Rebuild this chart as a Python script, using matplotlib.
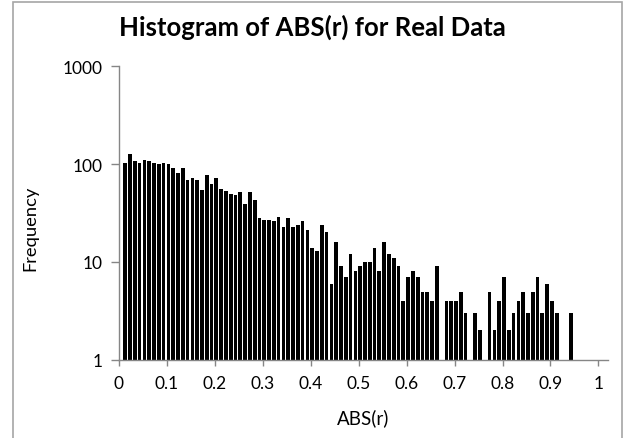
import numpy as np
import matplotlib
matplotlib.use("Agg")
import matplotlib.pyplot as plt
from matplotlib.patches import Rectangle

plt.rcParams['font.family'] = ['Lato', 'DejaVu Sans']

# histogram bins of ABS(r), width 0.01 (lower edge of each bin)
bin_lefts = np.round(np.arange(1, 95) * 0.01, 2)
counts = [
    103, 126, 107, 103, 111, 107, 103, 99, 103, 101,
    91, 80, 91, 68, 72, 69, 54, 77, 63, 72,
    55, 53, 49, 48, 52, 39, 52, 43, 28, 27,
    27, 26, 29, 23, 28, 23, 24, 26, 21, 14,
    13, 24, 20, 6, 16, 9, 7, 12, 8, 9,
    10, 10, 14, 8, 16, 12, 11, 9, 4, 7,
    8, 7, 5, 5, 4, 9, 0, 4, 4, 4,
    5, 3, 0, 3, 2, 0, 5, 2, 4, 7,
    2, 3, 4, 5, 3, 5, 7, 3, 6, 4,
    3, 0, 0, 3,
]
x_ticks = [0, 0.1, 0.2, 0.3, 0.4, 0.5, 0.6, 0.7, 0.8, 0.9, 1]
x_tick_labels = ['0', '0.1', '0.2', '0.3', '0.4', '0.5', '0.6', '0.7', '0.8', '0.9', '1']
y_ticks = [1, 10, 100, 1000]

W, H = 631, 439
fig = plt.figure(figsize=(W / 100, H / 100), dpi=100)

# axes box in pixel coordinates
left, right, top, bottom = 119, 608, 67, 361
ax = fig.add_axes([left / W, 1 - bottom / H, (right - left) / W, (bottom - top) / H])

counts = np.array(counts)
keep = counts > 0
ax.bar(bin_lefts[keep] + 0.003, counts[keep], width=0.0077, color='black',
       edgecolor='none', linewidth=0)

ax.set_yscale('log')
ax.set_ylim(1, 1000)
ax.set_xlim(0, 1.02)
ax.set_yticks(y_ticks)
ax.set_yticklabels(['1', '10', '100', '1000'])
ax.yaxis.set_minor_locator(matplotlib.ticker.NullLocator())
ax.set_xticks(x_ticks)
ax.set_xticklabels(x_tick_labels)

axis_gray = '#868686'
for side in ['top', 'right']:
    ax.spines[side].set_visible(False)
for side in ['left', 'bottom']:
    ax.spines[side].set_color(axis_gray)
    ax.spines[side].set_linewidth(1.0)
ax.tick_params(axis='y', direction='out', length=6, width=1, color=axis_gray,
               labelsize=12.5, pad=6)
ax.tick_params(axis='x', direction='out', length=4.5, width=1, color=axis_gray,
               labelsize=12.5, pad=6)

fig.text(312 / W, 1 - 27 / H, 'Histogram of ABS(r) for Real Data', ha='center',
         va='center', fontsize=18.5, fontweight='bold')
fig.text(30 / W, 1 - 228 / H, 'Frequency', ha='center', va='center',
         rotation=90, fontsize=13.2)
fig.text(363 / W, 1 - 418 / H, 'ABS(r)', ha='center', va='center', fontsize=13.5)

# chart border like the spreadsheet frame
fig.patches.append(Rectangle((13 / W, -0.05), (622 - 13) / W, 1 - 2.5 / H + 0.05,
                             transform=fig.transFigure, fill=False,
                             edgecolor='#a6a6a6', linewidth=1.2))

fig.savefig('out.png', dpi=100)
